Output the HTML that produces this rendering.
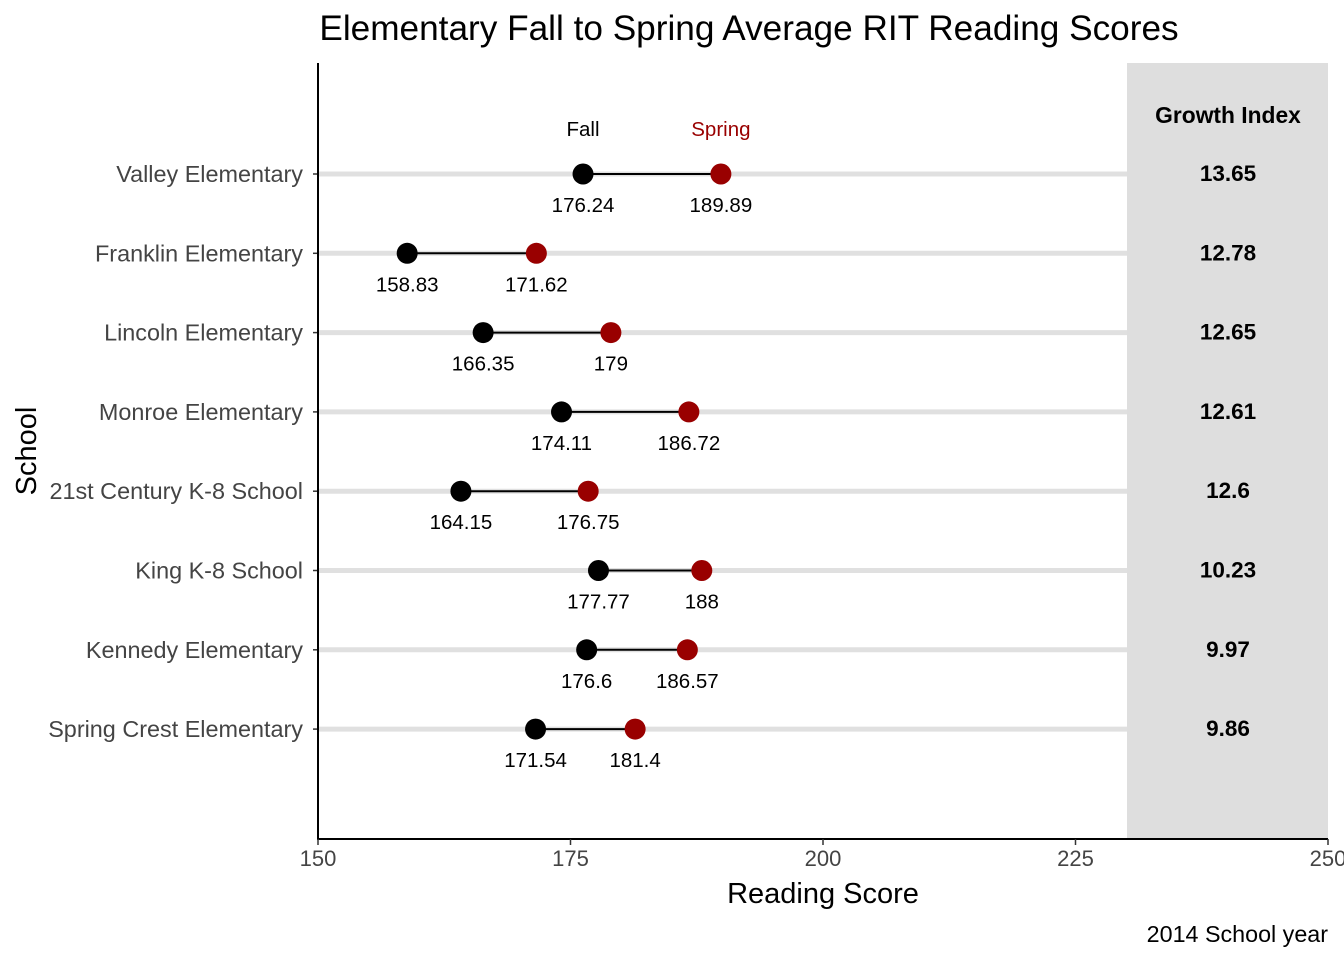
<!DOCTYPE html>
<html><head><meta charset="utf-8"><style>
body{margin:0;background:#fff}
svg{display:block;font-family:"Liberation Sans",Arial,sans-serif}
</style></head><body>
<svg id="chart" width="1344" height="960" xmlns="http://www.w3.org/2000/svg">
<text x="749" y="40" font-size="35.2" text-anchor="middle" fill="#000">Elementary Fall to Spring Average RIT Reading Scores</text>
<rect x="1127" y="63" width="201" height="776" fill="#dedede"/>
<text x="1228" y="123" font-size="22.8" font-weight="bold" text-anchor="middle">Growth Index</text>
<g id="rows"></g>
<line x1="318" y1="63" x2="318" y2="840" stroke="#000" stroke-width="2"/>
<line x1="317" y1="839" x2="1328" y2="839" stroke="#000" stroke-width="2"/>
<g id="xticks"></g>
<text x="823" y="903" font-size="29" text-anchor="middle">Reading Score</text>
<text transform="translate(36,451) rotate(-90)" font-size="29" text-anchor="middle">School</text>
<text x="1328" y="942" font-size="23.3" text-anchor="end">2014 School year</text>
</svg>
<script>
const schools=["Valley Elementary","Franklin Elementary","Lincoln Elementary","Monroe Elementary","21st Century K-8 School","King K-8 School","Kennedy Elementary","Spring Crest Elementary"];
const fall=[176.24,158.83,166.35,174.11,164.15,177.77,176.6,171.54];
const spring=[189.89,171.62,179,186.72,176.75,188,186.57,181.4];
const growth=["13.65","12.78","12.65","12.61","12.6","10.23","9.97","9.86"];
const xTicks=[150,175,200,225,250];
const NS="http://www.w3.org/2000/svg";
const x=v=>318+(v-150)*10.1;
const y=i=>174+i*79.3;
function mk(tag,attrs,parent,text){const e=document.createElementNS(NS,tag);for(const k in attrs)e.setAttribute(k,attrs[k]);if(text!==undefined)e.textContent=text;parent.appendChild(e);return e;}
const rows=document.getElementById('rows');
schools.forEach((s,i)=>{
  const yy=y(i);
  let e;
  e=mk('line',{x1:318,x2:1127,y1:yy,y2:yy,stroke:'#e0e0e0','stroke-width':5},rows);
  
  e=mk('line',{x1:313,x2:318,y1:yy,y2:yy,stroke:'#333','stroke-width':1.5},rows);
  
  e=mk('text',{x:303,y:yy+8,'font-size':23.4,'text-anchor':'end',fill:'#444'},rows,s);
  
  e=mk('line',{x1:x(fall[i]),x2:x(spring[i]),y1:yy,y2:yy,stroke:'#000','stroke-width':2},rows);
  
  e=mk('circle',{cx:x(fall[i]),cy:yy,r:10.5,fill:'#000'},rows);
  
  e=mk('circle',{cx:x(spring[i]),cy:yy,r:10.5,fill:'#990000'},rows);
  
  e=mk('text',{x:x(fall[i]),y:yy+38,'font-size':20.5,'text-anchor':'middle'},rows,String(fall[i]));
  
  e=mk('text',{x:x(spring[i]),y:yy+38,'font-size':20.5,'text-anchor':'middle'},rows,String(spring[i]));
  
  e=mk('text',{x:1228,y:yy+7,'font-size':22.5,'font-weight':'bold','text-anchor':'middle'},rows,growth[i]);
  
  if(i===0){
    e=mk('text',{x:x(fall[i]),y:yy-38,'font-size':20.5,'text-anchor':'middle'},rows,'Fall');
    
    e=mk('text',{x:x(spring[i]),y:yy-38,'font-size':20.5,'text-anchor':'middle',fill:'#990000'},rows,'Spring');
    
  }
});
const xt=document.getElementById('xticks');
xTicks.forEach(t=>{
  let e=mk('line',{x1:x(t),x2:x(t),y1:839,y2:845,stroke:'#333','stroke-width':1.5},xt);
  
  e=mk('text',{x:x(t),y:866,'font-size':22,'text-anchor':'middle',fill:'#444'},xt,String(t));
  
});
</script>
</body></html>
